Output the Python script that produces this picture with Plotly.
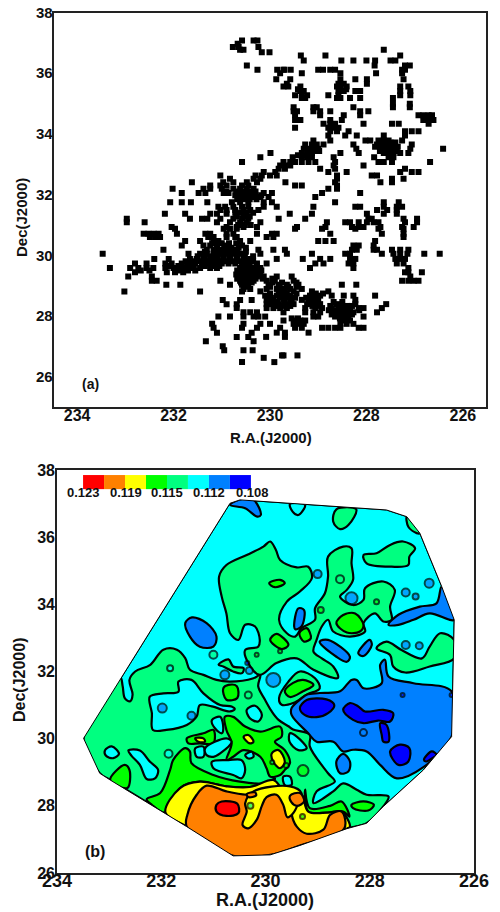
import plotly.graph_objects as go

# ---------- panel (a): sources, one row of R.A. values per Dec value ----------
dec_rows = [37.08,36.97,36.86,36.77,36.69,36.58,36.42,36.25,36.11,36.0,35.8,35.65,35.56,35.41,35.27,35.18,34.99,34.88,34.75,34.61,34.46,34.33,34.2,34.09,33.95,33.78,33.65,33.51,33.37,33.23,33.07,32.96,32.85,32.74,32.63,32.52,32.41,32.3,32.19,32.05,31.92,31.75,31.6,31.49,31.37,31.2,31.09,30.93,30.87,30.71,30.6,30.47,30.32,30.18,30.05,29.88,29.73,29.58,29.44,29.3,29.16,29.03,28.89,28.81,28.67,28.53,28.39,28.26,28.12,27.98,27.85,27.74,27.61,27.45,27.31,27.17,27.0,26.87,26.7,26.62,26.48,
            30.4,30.25,30.12,29.97,29.8,29.65,29.5,29.37,29.23,29.1,28.96,28.74,28.6,28.46,28.33,28.19,28.05,27.92,33.72,33.58,33.44,33.3,32.1,31.98,31.85,31.4,31.28,31.0,35.47]
ra_rows = [
[230.58,230.34,230.26],[230.67],[230.77,230.65,230.24],[227.64,230.62,230.55],[230.17,230.01],
[229.36,228.85,227.3],[229.3,228.27,228.0,227.82,227.5,227.4,228.52],[230.48,227.1,227.2,227.83],
[230.26,229.85,229.7,229.72,229.57,229.0,228.9,228.75,228.65,227.2,227.26],[229.79,227.8,227.26,229.34,228.54],
[229.87,229.58,228.54,228.23,227.99,227.23],[228.58,228.47,227.99,229.65],[229.72,229.62,229.37,228.61,228.54,228.41,227.3,227.13],
[229.37,229.3,228.58,228.47,228.23,228.13,227.3,227.09],[229.48,229.34,229.23,228.79,228.58,227.3,227.09],
[229.34,229.27,228.61,228.54,228.34,228.13,227.45],[227.45,227.1],[229.51,229.1,229.03,227.1,228.27,227.45],
[229.51,229.44,229.1,228.96,228.75,228.13,227.96],[229.48,228.96,228.47,228.13,226.92,226.64,226.82,226.71],
[229.48,229.37,228.75,228.51,226.82,226.71,226.61],[228.89,228.75,228.65,228.06,227.47,227.33,226.71],
[229.48,228.79,228.68,228.58],[228.75,228.61,228.37,227.2,227.06,226.92],[228.79,228.44,228.2,227.64,227.2],
[229.1,228.75,228.02,227.92,227.75,227.64,227.54,227.26],[229.27,229.13,229.03,228.89,228.27,227.78,227.68,227.57,227.47,227.06],
[229.3,229.2,229.1,229.0,228.21,227.68,227.57,227.47,227.37,227.09,226.41],[229.99,229.34,229.23,229.13,228.54,228.16,227.64,227.54,227.44,227.3,227.13],
[230.2,229.53,229.34,229.23,229.13,228.68,227.84,227.54,227.44],[230.58,229.72,229.58,229.48,229.34,229.2,229.06,228.65,227.75,227.64,227.47,226.68],
[229.79,229.69,229.58,228.68,228.06],[229.82,229.69,228.96,227.2,228.65],[230.13,229.89,228.79,228.41,227.3,227.06,226.92],
[231.03,230.3,230.17,230.0,229.86,227.89,227.78,228.61],[230.83,230.34,230.2,228.61,227.47,227.23],
[231.62,230.97,230.76,230.48,230.27,229.68,227.71,227.47,228.65],[231.24,231.03,230.9,230.58,230.45,229.48,229.34,228.61],
[232.02,231.38,231.24,231.0,230.76,230.62,230.48,230.34,228.79,228.61],[231.83,231.48,231.34,230.96,230.86,230.65,230.51,230.38,230.13,229.96,228.13,228.92],
[230.62,230.48,230.34,230.2,230.03,229.06],[232.07,231.83,231.64,231.3,230.79,230.62,230.45,230.13,229.96,228.65,227.64,227.33],
[231.07,230.93,230.76,230.58,230.45,230.13,229.86,228.23,228.13,227.37,227.26,229.1,227.64],[231.03,230.9,230.72,230.55,230.41,230.24,227.78,227.57,227.37],
[232.18,231.76,231.24,231.1,230.9,230.69,230.51,229.59,229.13,227.99,227.64,227.37],[232.97,231.66,231.41,231.3,231.03,230.76,230.58,230.45,229.82,229.27,227.96,227.89,227.23,226.95],
[232.97,232.6,231.1,230.83,230.62,230.48,230.2,228.82,228.44,228.34,228.16,227.99,227.85,227.75,227.2,226.95],[232.04,230.9,230.69,230.55,230.27,229.44,228.85,228.3,228.16,228.06,227.71,227.26,227.02],
[231.97,230.96,230.83,230.69,229.48,228.92,228.23,227.75,227.23],[232.62,232.52,232.41,232.31,231.93,231.34,231.24,230.9,230.76,230.27,229.96,229.86,228.75,227.68,227.23],
[232.49,232.38,232.28,231.28,231.17,230.9,230.72,230.69,230.07,229.93,227.23],[231.76,231.45,231.17,231.07,230.62,230.41,229.0,228.85,228.68,227.82],
[231.83,231.38,231.24,231.1,230.9,230.58,228.16,228.27,227.85],[232.21,231.31,231.17,231.03,230.9,230.76,230.24,229.93,229.69,228.3,228.2,227.85,227.78,227.3,227.13,227.47],
[233.47,231.69,231.45,231.31,231.17,231.03,230.9,230.76,230.62,230.2,229.65,229.13,228.44,228.34,227.68,227.44,227.3,227.15,226.8,226.48],
[232.4,232.1,231.66,231.52,231.38,231.24,231.1,230.96,230.83,230.69,230.55,230.41,229.86,229.32,228.96,228.75,228.34,228.23,227.4,227.3,227.2],
[232.8,232.56,232.17,232.04,231.83,231.69,231.55,231.41,231.28,231.14,231.0,230.86,230.72,230.58,230.45,230.27,230.07,229.06,228.89,228.37,228.27,227.37,227.23],
[233.32,232.9,232.73,232.56,232.42,232.17,232.0,231.8,231.62,231.45,231.24,231.1,230.62,230.48,230.34,230.2,229.17,228.27,227.13],
[232.8,232.14,231.97,231.8,230.62,230.48,230.38,230.27,227.13,226.85,227.2],[232.94,232.45,230.65,230.51,230.41,230.27,230.13,229.86,229.55,227.09],
[232.45,232.35,231.03,230.62,230.48,230.34,230.07,229.9,229.51,227.26,227.13,227.02,226.92],[232.15,231.86,230.83,230.58,230.45,230.03,229.82,229.65,229.41,228.51,228.21],
[230.55,230.41,230.07,229.86,229.72,229.58,229.34],[233.02,231.45,230.58,230.2,229.82,229.69,229.51,229.13,228.79],
[230.1,229.86,229.72,229.58,229.17,228.96,228.72,228.47,228.27,227.82],[230.98,230.62,230.38,230.07,229.93,229.72,229.55,229.34,229.13,229.0,228.23],
[230.9,230.69,230.07,229.96,229.82,229.65,229.51,229.23,229.1,228.96,228.61,228.23,227.59],[230.69,230.07,229.93,229.79,229.65,229.27,229.06,228.92,228.72,228.58,228.44,228.16,228.06,227.68],
[230.55,230.41,230.27,229.72,229.27,229.1,228.96,228.68,228.54,228.41,228.27,227.78],[231.07,230.83,230.55,230.34,230.24,230.1,229.1,229.0,228.65,228.51,228.37,228.06],
[229.72,229.48,229.37,229.27,228.47,228.34],[231.2,230.55,230.2,230.0,229.51,229.41,229.3,228.54,228.41,228.27],
[231.17,230.58,230.27,229.79,229.48,229.34,228.92,228.79,228.65,228.54,228.16,228.06],[231.1,230.38,229.86,229.69,229.2],
[230.69,230.45,230.08,229.69],[231.33,230.34],[230.98],[230.95,230.55,230.36],[229.75,229.72,229.43],[230.13],[230.58,229.91],
[231.2,231.0,230.85,230.7],[231.1,230.95,230.8,230.65,230.5],[231.35,231.1,230.95,230.82,230.68,230.5],
[231.5,231.35,231.22,231.08,230.96,230.82,230.68,230.52,230.35],[231.75,231.6,231.45,231.32,231.18,231.05,230.92,230.78,230.63,230.5,230.35],
[232.1,231.9,231.72,231.58,231.35,231.2,231.05,230.55,230.42,230.28],[232.68,232.5,231.9,231.7,231.55,230.68,230.55,230.42,230.3,230.18],
[230.7,230.55,230.44,230.32,230.2],[230.68,230.55,230.42,230.3,230.15,229.95],[230.6,230.5,230.38,229.95,229.75,229.45],
[230.5,230.0,229.8,229.62,229.45],[230.0,229.78,229.65,229.45,229.05,228.9],[229.98,229.8,229.65,229.48,229.25,229.05],
[230.0,229.85,229.7,229.58,229.2,229.03,228.68,228.5],[229.88,229.72,229.58,229.12,229.0,228.75,228.52,228.4,228.3],
[228.78,228.62,228.48,228.34,228.15],[228.72,228.58,228.45,228.3],[229.55,229.42,228.55,228.42],
[227.7,227.58,227.5,227.4],[227.82,227.72,227.58,227.46,227.35],[227.72,227.6,227.5,227.38,229.2,229.05,228.98],[229.42,229.28,229.18],
[230.9,230.7,230.55,230.42,230.3],[230.72,230.58,230.44,230.3,230.18],[230.68,230.55,230.42,230.28],
[230.72,230.6,230.48,230.35],[230.7,230.55,230.42],[230.66,230.52,230.4],[228.55,228.42,229.42],
]

# ---------- panel (b): colour key ----------
band_colors = ["#FF0000","#FF8000","#FFFF00","#00FF00","#00FF80","#00FFFF","#0080FF","#0000FF"]
key_labels = ["0.123","0.119","0.115","0.112","0.108"]
R,O,Y,G,S,C,B,D = band_colors

# ---------- panel (b): map boundary ----------
hull_ra  = [230.68,230.49,227.68,227.29,227.04,226.62,226.38,226.43,226.97,227.74,228.06,228.44,229.34,229.91,230.62,231.51,232.98,233.18,233.49,230.68]
hull_dec = [37.01,37.11,36.81,36.61,36.12,34.53,33.54,30.06,29.07,27.98,27.48,27.32,26.82,26.54,26.51,27.38,28.77,28.97,30.01,37.01]

# ---------- panel (b): contour bands, painted in order (colour, R.A., Dec) ----------
regions = [
(S,[232.79,232.74,232.70,232.60,232.55,232.61,232.50,232.21,231.96,231.70,231.54,231.45,231.19,230.94,230.68,230.23,230.10,230.14,230.01,229.88,229.75,229.56,229.47,229.15,229.15,228.8,228.67,229.02,229.08,228.70,228.51,228.25,228.06,227.64,227.74,228.06,228.44,229.34,229.91,230.62,231.51,232.98,233.18,233.49],
   [31.85,31.56,31.21,31.11,31.31,31.75,32.0,32.2,32.65,32.65,32.4,32.05,31.9,31.75,31.7,31.8,31.9,31.56,31.16,30.81,30.56,30.37,30.27,30.12,29.77,28.97,28.72,28.43,28.08,28.43,28.67,28.48,28.33,28.28,27.98,27.48,27.32,26.82,26.54,26.51,27.38,28.77,28.97,30.01]),
(S,[229.91,229.80,229.72,229.40,229.18,229.11,229.34,229.59,229.74,229.59,229.43,229.31,229.05,229.05,228.86,228.80,228.80,228.51,228.35,228.35,228.32,228.44,228.57,228.32,228.12,228.09,227.74,227.52,227.61,227.58,227.74,227.90,228.12,228.09,228.38,228.70,228.80,228.92,229.02,229.08,228.92,228.70,228.61,229.08,229.40,229.79,230.11,230.33,230.39,230.14,230.11,230.20,230.39,230.52,230.68,230.75,230.84,230.89,230.75,230.36,230.04],
   [35.87,35.62,35.32,35.10,35.12,34.78,34.38,34.08,33.54,33.14,33.04,33.29,33.54,33.88,34.33,34.83,35.42,35.72,35.67,35.22,34.73,34.43,34.23,33.98,34.13,34.48,34.68,34.43,33.93,33.54,33.49,33.73,33.44,33.19,33.04,33.19,33.54,33.34,32.94,32.59,32.39,32.15,31.81,32.05,32.39,32.25,31.9,32.25,32.64,32.74,32.94,33.34,33.39,32.94,33.14,33.73,34.23,34.83,35.17,35.47,35.72]),
(S,[228.64,228.70,228.57,228.41,228.26],[36.83,36.46,36.24,36.36,36.83]),
(S,[227.29,227.26,227.1,227.04,227.15],[36.61,36.31,36.12,36.12,36.4]),
(S,[228.12,228.06,227.58,227.26,227.24,227.13,227.36,227.61,227.87],[35.47,35.22,35.12,35.17,35.42,35.67,35.87,35.77,35.52]),
(S,[227.87,227.68,227.39,227.0,226.85,226.65,226.38,226.38,226.85,227.32,227.55,227.61],[32.69,32.89,32.64,32.39,32.74,33.14,32.94,32.39,32.15,31.97,32.15,32.49]),
(S,[229.74,229.56,229.34,229.05,228.96,229.21,229.47,229.69],[31.21,31.70,32.0,31.80,31.5,31.31,31.06,31.01]),
(S,[230.9,230.71,230.62,230.42,230.45,230.62,230.81],[32.2,32.36,32.15,32.1,31.95,32.0,32.15]),
(G,[232.28,232.02,231.83,231.77,231.54,231.45,231.42,231.0,230.49,229.98,229.82,229.85,230.30,230.75,231.26,231.64,231.92,232.18],[28.2,28.38,29.07,29.37,29.72,29.62,29.27,28.92,28.72,28.67,28.82,28.72,28.56,28.58,28.72,28.53,27.8,28.03]),
(G,[232.98,232.70,232.61,232.65],[28.77,29.22,29.07,28.53]),
(G,[230.78,230.62,230.39,230.10,229.72,229.69,229.82,229.63,229.53,229.63,229.72,229.91,229.98,230.10,230.42,230.62,230.75,230.65,230.75],[30.65,30.65,30.36,30.21,30.36,30.06,29.91,29.66,29.27,29.07,28.92,28.87,29.12,29.46,29.66,29.46,29.36,29.86,30.26]),
(G,[231.51,231.19,231.0,231.0,231.26,231.48],[30.01,30.16,30.26,29.86,29.86,29.86]),
(G,[230.81,230.71,230.55,230.54,230.75],[31.5,31.6,31.56,31.21,31.16]),
(G,[229.63,229.47,229.28,229.08,229.28,229.53],[31.41,31.66,31.75,31.6,31.41,31.24]),
(G,[228.64,228.51,228.28,228.12,228.19,228.44],[33.44,33.68,33.73,33.38,33.19,33.16]),
(G,[229.93,229.72,229.63,229.82],[34.63,34.73,34.63,34.51]),
(G,[229.91,229.79,229.56,229.69],[32.94,33.12,32.79,32.67]),
(G,[229.35,229.21,229.13,229.26],[33.14,33.29,32.99,32.89]),
(G,[228.35,228.12,227.92,228.03,228.32],[28.03,28.13,28.03,27.86,27.93]),
(G,[229.24,229.15,228.76,228.54,228.39,228.51,228.8,229.18],[28.48,27.93,28.0,28.13,27.68,27.83,27.8,27.83]),
(C,[232.22,231.96,231.67,231.67,231.42,231.19,230.87,230.65,230.59,230.68,231.03,231.26,231.32,231.51,231.90,232.16,232.18],[31.25,31.35,31.40,31.70,31.75,31.35,31.0,30.96,30.88,30.81,30.96,31.0,30.66,30.41,30.26,30.26,30.76]),
(C,[230.36,230.2,230.07,230.14,230.30],[30.86,30.98,30.71,30.51,30.61]),
(C,[232.63,232.41,232.22,232.06,232.12,232.28,232.41,232.57],[29.65,29.65,29.32,29.07,28.82,28.8,29.22,29.49]),
(C,[233.08,232.95,232.81,232.92,233.06],[29.65,29.77,29.55,29.42,29.49]),
(C,[229.53,229.24,229.37,229.48],[36.99,36.96,36.66,36.76]),
(C,[231.03,230.87,230.81,230.84,230.97],[30.55,30.65,30.31,30.16,30.31]),
(C,[231.35,231.19,231.19,231.32],[29.71,29.76,29.46,29.46]),
(C,[231.16,230.75,230.65,230.87,231.0,231.13],[29.71,30.01,29.91,29.56,29.46,29.51]),
(C,[231.03,230.71,230.46,230.39,230.46,230.62,230.87,231.0],[29.31,29.36,29.36,29.07,28.82,28.92,29.02,29.12]),
(C,[230.39,230.26,230.23,230.33],[29.51,29.61,29.46,29.41]),
(C,[229.53,229.40,229.21,229.37,229.54],[30.16,30.06,29.71,29.66,29.91]),
(C,[229.66,229.53,229.5,229.63],[28.87,28.87,28.62,28.62]),
(B,[229.21,228.96,228.57,228.35,228.25,228.12,227.77,227.80,227.71,227.64,227.16,226.43,226.43,226.97,227.48,227.80,228.06,228.32,228.51,228.70,229.02,229.18,229.50,229.50,229.31],[31.31,31.36,31.41,31.75,31.75,31.5,31.65,32.2,32.35,31.85,31.65,31.41,30.06,29.15,28.82,29.22,29.62,29.67,29.62,29.91,29.91,30.16,30.71,30.91,31.2]),
(B,[230.68,230.52,230.23,230.09,230.16,230.39],[36.96,37.11,37.11,36.66,36.61,36.86]),
(B,[231.54,231.41,231.13,230.94,231.0,231.26,231.45],[33.44,33.61,33.44,33.04,32.74,32.74,33.04]),
(B,[229.45,229.37,229.26,229.31,229.43],[33.34,33.88,33.83,33.34,33.26]),
(B,[228.96,228.8,228.38,228.44,228.64],[32.89,32.94,32.44,32.29,32.44]),
(B,[228.22,228,227.96,228.12],[32.54,32.94,32.79,32.46]),
(B,[226.62,226.38,226.85,227.16,227.45,227.64,227.45,227.04,226.72],[34.53,33.54,33.73,33.54,33.39,33.39,33.69,33.93,34.03]),
(B,[228.64,228.51,228.38,228.41,228.57],[29.32,29.55,29.32,29.02,28.97]),
(D,[229.34,229.21,228.83,228.68,228.8,229.02,229.25],[30.91,31.15,31.17,31.0,30.76,30.64,30.71]),
(D,[228.51,228.38,228.22,228.09,227.74,227.55,227.61,227.84,228.12,228.32],[30.86,31.06,30.96,30.81,30.86,30.76,30.51,30.54,30.46,30.56]),
(D,[227.8,227.68,227.64,227.74,227.77],[30.46,30.41,29.91,29.91,30.11]),
(D,[227.61,227.42,227.24,227.26,227.45],[29.62,29.82,29.72,29.32,29.22]),
(D,[226.96,226.81,226.72,226.85,226.92],[29.37,29.62,29.52,29.37,29.32]),
(Y,[231.92,231.64,231.26,230.75,230.30,229.85,229.69,229.50,229.31,229.18,228.80,228.54,228.38,228.44,229.34,229.91,230.62,231.51],[27.8,28.53,28.72,28.58,28.56,28.77,28.53,28.33,28.33,27.83,27.80,27.83,27.38,27.32,26.82,26.54,26.51,27.38]),
(Y,[231.35,231.19,231.16,231.29],[30.01,30.01,29.91,29.91]),
(Y,[230.42,230.33,230.23,230.30],[30.06,30.11,29.91,29.86]),
(Y,[229.88,229.75,229.63,229.72,229.85],[29.56,29.66,29.31,29.12,29.31]),
(O,[231.51,231.50,231.32,231.13,230.75,230.36,229.85,229.47,229.50,229.40,229.21,228.89,228.76,228.54,228.49,229.34,229.91,230.62],[27.38,27.73,28.33,28.6,28.43,28.33,28.38,28.38,27.78,27.38,27.17,27.29,27.73,27.83,27.32,26.82,26.54,26.51]),
(Y,[230.44,230.33,230.17,230.07,229.98,229.79,229.66,229.58,229.47,229.37,229.31,229.53,230.23,230.39,230.36],[27.43,27.33,27.58,28.0,28.26,28.33,28.03,27.66,27.78,28.08,28.38,28.58,28.43,28.08,27.83]),
(O,[229.53,229.34,229.26,229.40,229.5],[28.3,28.38,28.13,28.0,28.1]),
(O,[230.36,230.2,230.18,230.33],[28.35,28.4,28.31,28.26]),
(R,[230.94,230.84,230.54,230.52,230.75,230.94],[28.03,28.13,28.06,27.78,27.7,27.83]),
]

# small closed contours: colour, R.A., Dec, size on the page
dots = [
(B,231.98,30.91,9),(B,231.42,30.68,8),(B,229.0,34.9,8),(B,228.35,34.18,12),(B,227.31,34.35,8),(B,227.12,34.23,6),(B,226.86,34.63,9),
(B,227.31,32.79,8),(B,227.05,32.77,7),(S,231.0,32.5,8),(B,230.78,31.9,9),(B,229.85,31.75,14),(B,230.31,32.03,7),(C,231.83,32.1,6),(S,230.33,31.3,7),
(C,231.86,29.55,8),(G,229.28,29.05,11),(S,228.57,34.75,8),(G,228.94,33.83,6),(G,227.87,34.08,5),(G,229.72,32.6,4),(G,230.17,32.5,4),
(B,228.12,30.18,7),(D,227.37,31.3,4),(D,226.43,31.3,4),(S,230.29,28.0,6),(G,229.29,27.68,5),(D,230.35,32.25,4),(G,229.6,29.2,5),(S,229.87,29.3,4),
]

# ---------- panel (b): white outside the boundary ----------
frame_ra  = [234.0,226.0,226.0,234.0,234.0]
frame_dec = [38.0,38.0,26.0,26.0,38.0]
mask_ra  = frame_ra + hull_ra[::-1] + [frame_ra[0]]
mask_dec = frame_dec + hull_dec[::-1] + [frame_dec[0]]

fig = go.Figure()

# panel (a)
ra_a, dec_a = [], []
for d, row in zip(dec_rows, ra_rows):
    for r in row:
        ra_a.append(r); dec_a.append(d)
fig.add_trace(go.Scatter(x=ra_a, y=dec_a, mode="markers", xaxis="x", yaxis="y",
                         marker=dict(symbol="square", size=6, color="black", line=dict(width=0))))

# panel (b)
fig.add_trace(go.Scatter(x=hull_ra, y=hull_dec, mode="lines", fill="toself", fillcolor=C, xaxis="x2", yaxis="y2",
                         line=dict(color="black", width=1)))
for col, ra, dec in regions:
    fig.add_trace(go.Scatter(x=ra + ra[:1], y=dec + dec[:1], mode="lines", fill="toself", fillcolor=col, xaxis="x2", yaxis="y2",
                             line=dict(color="black", width=2.2, shape="spline", smoothing=1.0)))
fig.add_trace(go.Scatter(x=[d[1] for d in dots], y=[d[2] for d in dots], mode="markers", xaxis="x2", yaxis="y2",
                         marker=dict(symbol="circle", size=[d[3] for d in dots], color=[d[0] for d in dots],
                                     line=dict(color="black", width=2))))
fig.add_trace(go.Scatter(x=mask_ra, y=mask_dec, mode="lines", fill="toself", fillcolor="white", xaxis="x2", yaxis="y2",
                         line=dict(color="rgba(0,0,0,0)", width=0)))
fig.add_trace(go.Scatter(x=hull_ra, y=hull_dec, mode="lines", xaxis="x2", yaxis="y2", line=dict(color="black", width=1)))

# colour key, drawn as a row of swatches above the map
key_left, key_width, key_bottom, key_top = 233.5, 0.4025, 37.43, 37.85
shapes = []
for i, col in enumerate(band_colors):
    shapes.append(dict(type="rect", xref="x2", yref="y2", x0=key_left - i * key_width, x1=key_left - (i + 1) * key_width,
                       y0=key_bottom, y1=key_top, fillcolor=col, line=dict(width=0), layer="above"))

FONT = "Liberation Sans"
# The page adds an 8 px body margin, so the figure is 492x904 and positions are measured from (8, 8).
W = 492.0; H = 904.0
def PX(v): return (v - 8) / W
def PY(v): return 1 - (v - 8) / H

def label(x, y, text, size, angle=0):
    return dict(x=PX(x), y=PY(y), xref="paper", yref="paper", text=text, textangle=angle, showarrow=False,
                font=dict(family=FONT, size=size, color="#111111", weight=700), xanchor="center", yanchor="middle")

annotations = [
    label(271, 437, "R.A.(J2000)", 15),
    label(22, 218, "Dec(J2000)", 15, angle=-90),
    label(90, 384, "(a)", 14),
    label(265, 900, "R.A.(J2000)", 18),
    label(19, 680, "Dec(J2000)", 16, angle=-90),
    label(95, 851, "(b)", 16),
]
for lab, px in zip(key_labels, [83, 126, 167, 209, 252]):
    annotations.append(label(px, 492, lab, 13))

def xax(dom, rng, size, anchor, standoff):
    return dict(domain=dom, range=rng, tickvals=[234,232,230,228,226], ticks="", showgrid=False, zeroline=False,
                showline=True, mirror=True, linecolor="#222222", linewidth=1.6, anchor=anchor,
                ticklabeloverflow="allow", ticklabelstandoff=standoff,
                tickfont=dict(family=FONT, size=size, color="#111111", weight=700))
def yax(dom, rng, size, anchor, standoff):
    return dict(domain=dom, range=rng, tickvals=[26,28,30,32,34,36,38], ticks="", showgrid=False, zeroline=False,
                showline=True, mirror=True, linecolor="#222222", linewidth=1.6, anchor=anchor,
                ticklabeloverflow="allow", ticklabelstandoff=standoff,
                tickfont=dict(family=FONT, size=size, color="#111111", weight=700))

fig.update_layout(
    width=492, height=904, showlegend=False, autosize=False,
    margin=dict(l=0, r=0, t=0, b=0, autoexpand=False), paper_bgcolor="white", plot_bgcolor="white",
    xaxis=xax([PX(53.5), PX(486)], [234.49, 225.52], 16, "y", -7),
    yaxis=yax([PY(407), PY(12.5)], [25.0, 38.0], 15, "x", -4),
    xaxis2=xax([PX(57), PX(474)], [234.0, 226.0], 18, "y2", -9),
    yaxis2=yax([PY(873), PY(470)], [26.0, 38.0], 16, "x2", -3),
    shapes=shapes, annotations=annotations,
)
fig.write_html("out.html")
